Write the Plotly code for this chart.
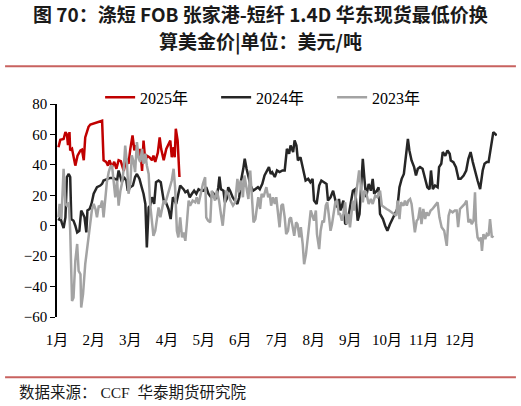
import plotly.graph_objects as go

# 月份标签（x 轴以“月”为单位，0 = 1月1日）
months = ["1月", "2月", "3月", "4月", "5月", "6月", "7月", "8月", "9月", "10月", "11月", "12月"]
y_ticks = [-60, -40, -20, 0, 20, 40, 60, 80]

x2025 = [0.04, 0.09, 0.18, 0.23, 0.27, 0.30, 0.34, 0.36, 0.41, 0.45, 0.50, 0.56, 0.64, 0.68, 0.73,
         0.77, 0.86, 0.91, 1.09, 1.23, 1.27, 1.34, 1.39, 1.43, 1.50, 1.56, 1.62, 1.68, 1.74, 1.82,
         1.89, 1.95, 2.00, 2.06, 2.11, 2.16, 2.23, 2.27, 2.32, 2.36, 2.41, 2.45, 2.52, 2.59, 2.63,
         2.68, 2.75, 2.80, 2.84, 2.91, 2.98, 3.04, 3.09, 3.13, 3.18, 3.21, 3.24, 3.29, 3.32, 3.34]
y2025 = [51.6, 56.5, 57, 61.5, 60, 53, 61.5, 49.5, 50.5, 45, 39.5, 46, 49.5, 50, 43,
         58, 65, 66.5, 68, 69, 43, 42, 39.5, 43, 38.5, 42, 37.4, 43, 42.4, 36,
         44, 40.7, 50.5, 59.3, 49.5, 52.7, 45, 50.5, 36, 56, 41.8, 46, 45, 43, 46,
         42, 48, 58, 50.5, 43, 50.5, 54, 56, 45, 51.6, 45, 63.7, 56, 33, 32]

x2024 = [0.04, 0.09, 0.13, 0.18, 0.23, 0.27, 0.32, 0.36, 0.39, 0.45, 0.50, 0.55, 0.61, 0.66, 0.71,
         0.75, 0.80, 0.83, 0.89, 0.94, 1.00, 1.09, 1.18, 1.23, 1.27, 1.36, 1.45, 1.54, 1.64, 1.68,
         1.73, 1.77, 1.82, 1.89, 1.93, 2.00, 2.07, 2.13, 2.18, 2.25, 2.31, 2.36, 2.41, 2.45, 2.50,
         2.54, 2.59, 2.65, 2.70, 2.77, 2.83, 2.91, 2.97, 3.04, 3.10, 3.16, 3.19, 3.25, 3.31,
         3.36, 3.45, 3.50, 3.56, 3.62, 3.68, 3.74, 3.80, 3.86, 3.93, 4.00, 4.07, 4.13, 4.20, 4.27,
         4.34, 4.40, 4.43, 4.47, 4.54, 4.58, 4.63, 4.67, 4.72, 4.79, 4.85, 4.92, 4.97, 5.02, 5.08,
         5.12, 5.17, 5.21, 5.28, 5.35, 5.42, 5.48, 5.53, 5.60, 5.66, 5.73, 5.78, 5.83, 5.87, 5.94,
         6.00, 6.07, 6.15, 6.21, 6.27, 6.33, 6.37, 6.44, 6.48, 6.53, 6.57, 6.64, 6.71, 6.78, 6.85,
         6.91, 6.97, 7.01, 7.08, 7.15, 7.21, 7.28, 7.35, 7.39, 7.46, 7.53, 7.58, 7.64, 7.69,
         7.73, 7.81, 7.86, 7.92, 7.99, 8.07, 8.13, 8.20, 8.25, 8.29, 8.34, 8.38, 8.43, 8.50, 8.56,
         8.61, 8.65, 8.72, 8.77, 8.81, 8.89, 8.95, 9.01, 9.08, 9.16, 9.22, 9.28, 9.34, 9.40, 9.46,
         9.52, 9.57, 9.61, 9.67, 9.74, 9.79, 9.84, 9.90, 9.97, 10.04, 10.10, 10.16, 10.20, 10.25, 10.31,
         10.38, 10.42, 10.48, 10.52, 10.59, 10.65, 10.71, 10.74, 10.81, 10.88, 10.95, 11.01, 11.09, 11.16, 11.22,
         11.28, 11.34, 11.40, 11.47, 11.54, 11.61, 11.66, 11.72, 11.77, 11.81, 11.86, 11.90, 11.95, 11.99]
y2024 = [3.3, 5.5, 2, -1.5, 5.5, 32, 34, 32, 4.4, 3.3, 0, -4.4, -3.3, 10, 7.7,
         5.5, -4.4, 10, 11, 14.3, 21, 25.3, 26.4, 27.5, 29.7, 30.8, 31.4, 31.4, 30, 36.3,
         30.8, 28.6, 32, 29.7, 23, 25.3, 26.4, 32, 34, 30.8, 25.3, 21, 14.3, -14.3, 12,
         13.2, 18.7, 14.3, 28.6, 29.7, 28.6, 16.5, 15.4, 11, 4.4, 18.7, 17.6, 14.3, 21,
         26.4, 24, 22, 23, 18.7, 21, 23, 21, 24, 23, 23, 25.3, 21, 18.7, 21,
         17.6, 25.3, 32.3, 24, 23, 15.4, 17.6, 25.3, 23, 18.7, 16.5, 14.3, 18.7, 29.7, 37.4,
         44, 37.4, 34, 26.4, 23, 24, 25.3, 24, 27.5, 33, 36.3, 38.5, 34, 35.2, 32,
         36.3, 35.2, 36.3, 36.3, 50.5, 47.3, 52.7, 48.4, 56, 52.7, 42.9, 45, 36.3, 29.7, 30.8,
         28.6, 30.8, 16.5, 14.3, 26.4, 29.7, 28.6, 27.5, 16.5, 18.7, 23, 17.6, 12, 17.6,
         10, 16.5, 1, 2.2, 13.2, 23, 24, 3.3, 7.7, 21, 44, 32, 18.7, 27.5, 23,
         30.8, 21, 23, 25.3, 7.7, 4.4, 0, -3.3, 1, 5.5, 7.7, 11, 25.3, 30.8, 34,
         47.3, 57.1, 49.5, 42.9, 38.5, 33, 37.4, 38.5, 37.4, 29.7, 25.3, 24, 36.3, 24, 26.4,
         25.3, 38.5, 40.7, 48.4, 46, 49.5, 47.3, 42.9, 41.8, 38.5, 30.8, 30.8, 33, 36.3, 44,
         48.4, 41.8, 35.2, 29.7, 24, 36.3, 40.7, 41.8, 41.8, 48.4, 56, 61.5, 60.4, 59.3]

x2023 = [0.04, 0.07, 0.12, 0.15, 0.18, 0.23, 0.27, 0.32, 0.36, 0.41, 0.45, 0.50, 0.55, 0.59, 0.64,
         0.66, 0.71, 0.77, 0.82, 0.86, 0.91, 0.95, 1.00, 1.05, 1.09, 1.14, 1.18, 1.23, 1.27, 1.32,
         1.36, 1.41, 1.45, 1.50, 1.54, 1.59, 1.64, 1.68, 1.73, 1.77, 1.82, 1.86, 1.91, 1.95, 2.00,
         2.04, 2.09, 2.13, 2.18, 2.23, 2.27, 2.32, 2.36, 2.41, 2.45, 2.50, 2.54, 2.59, 2.63, 2.68,
         2.72, 2.77, 2.82, 2.86, 2.91, 2.95, 3.00, 3.04, 3.09, 3.13, 3.18, 3.22, 3.27, 3.31,
         3.36, 3.41, 3.45, 3.50, 3.54, 3.59, 3.63, 3.70, 3.77, 3.81, 3.86, 3.92, 3.98, 4.04, 4.07,
         4.12, 4.18, 4.22, 4.27, 4.31, 4.36, 4.42, 4.47, 4.52, 4.56, 4.61, 4.67, 4.73, 4.80, 4.86,
         4.92, 4.96, 5.02, 5.07, 5.11, 5.17, 5.22, 5.27, 5.30, 5.36, 5.41, 5.45, 5.49, 5.54, 5.58,
         5.63, 5.67, 5.71, 5.76, 5.80, 5.84, 5.89, 5.94, 5.98, 6.03, 6.07, 6.12, 6.16, 6.21, 6.25,
         6.30, 6.34, 6.38, 6.43, 6.47, 6.52, 6.56, 6.61, 6.65, 6.70, 6.74, 6.79, 6.83, 6.88, 6.92,
         6.97, 7.01, 7.06, 7.09, 7.15, 7.19, 7.24, 7.28, 7.33, 7.37, 7.41, 7.46, 7.50, 7.55, 7.59,
         7.64, 7.68,
         7.72, 7.77, 7.81, 7.86, 7.90, 7.95, 7.99, 8.07, 8.10, 8.16, 8.21, 8.24, 8.29, 8.34, 8.38,
         8.43, 8.50, 8.56, 8.61, 8.68, 8.74, 8.81, 8.86, 8.92, 8.99, 9.06, 9.13, 9.19, 9.25, 9.29,
         9.34, 9.38, 9.45, 9.49, 9.54, 9.58, 9.63, 9.67, 9.72, 9.76, 9.81, 9.85, 9.90, 9.94, 9.99,
         10.04, 10.08, 10.13, 10.19, 10.24, 10.31, 10.38, 10.43, 10.49, 10.56, 10.63, 10.68, 10.72, 10.79, 10.85,
         10.90, 10.94, 10.99, 11.03, 11.08, 11.12, 11.17, 11.22, 11.27, 11.31, 11.36, 11.40, 11.43, 11.47, 11.52,
         11.56, 11.59, 11.63, 11.68, 11.72, 11.77, 11.81, 11.86, 11.90]
y2023 = [5.5, 14.3, 4.4, 23, 37.4, 14.3, 13.2, 15.4, -3.3, -49.5, -47.3, -23, -12, -29.7, -31.9,
         -53.8, -45, -25.3, -14.3, -7.7, 1, 10, 14.3, 11, 5.5, 13.2, 12, 16.5, 5.5, 18.7,
         28.6, 35.2, 38.5, 39.6, 31.9, 18.7, 29.7, 13.2, 23, 27.5, 37.4, 52.7, 40.7, 21, 27.5,
         46.2, 41.8, 35.2, 55, 44, 41.8, 50.5, 40.7, 47.3, 39.6, 34, 14.3, 1, -6.6, -3.3,
         2.2, 12, 5.5, 10, 16.5, 14.3, 18.7, 21, 25.3, 29.7, 37.4, 25.3, -3.3, -7.7,
         5.5, -7.7, -4.4, -9.9, 1, 16.5, 13.2, 16.5, 15.4, 18.7, 14.3, 21, 27.5, 31.9, 5.5,
         3.3, 2.2, 23, 18.7, 16.5, 23, 16.5, 7.7, 0, 10, 23, 21, 16.5, 13.2, 15.4,
         30.8, 22, 29.7, 18.7, 33, 25.3, 17.6, 36.3, 23, 2.2, 4.4, 12, 18.7, 11, 21,
         18.7, 23, 25.3, 18.7, 21, 13.2, 18.7, 14.3, 18.7, 7.7, -1, 13.2, 14.3, 5.5, -5.5,
         -3.3, 4.4, 5.5, -1, -6.6, 2.2, 1, -7.7, -1, -12, -25.3, -18.7, -7.7, 1, 10,
         6.6, 3.3, 10, -5.5, -15.4, -3.3, 3.3, 2.2, 13.2, 15.4, 7.7, -3.3, 1, 7.7, 15.4,
         16.5, 7.7,
         7.7, 3.3, 7.7, 15.4, 1, 7.7, -1, 16.5, 10, 23, 33, 36.3, 25.3, 15.4, 23,
         22, 14.3, 17.6, 14.3, 19.8, 18.7, 23, 13.2, 12, 11, 10, 8.8, 7.7, 6.6, 16.5,
         4.4, 15.4, 13.2, 16.5, 13.2, 16.5, 17.6, 14.3, 4.4, -4.4, 3.3, 4.4, 12, 1, 11,
         4.4, 8.8, 6.6, 10, 11, 13.2, 15.4, 5.5, -1, -3.3, -13.2, 6.6, 10, 8.8, 10,
         10, -1, 11, 12, 13.2, 14.3, 16.5, 2.2, 4.4, 1, 3.3, 22, 1, -7.7, -9.9,
         -7.7, -16.5, -5.5, -8.8, -5.5, -6.6, 4.4, -7.7, -6.6]

serif = "Liberation Serif, Times New Roman, Noto Sans CJK SC, serif"
cjk = "Noto Sans CJK SC, sans-serif"

fig = go.Figure()
fig.add_trace(go.Scatter(x=x2025, y=y2025, name="2025年", mode="lines",
                         line=dict(color="#C00000", width=2.5)))
fig.add_trace(go.Scatter(x=x2024, y=y2024, name="2024年", mode="lines",
                         line=dict(color="#262626", width=2.5)))
fig.add_trace(go.Scatter(x=x2023, y=y2023, name="2023年", mode="lines",
                         line=dict(color="#A3A3A3", width=2.5)))

fig.update_layout(
    width=521, height=406,
    margin=dict(l=57, r=24, t=104, b=89, autoexpand=False),
    paper_bgcolor="white", plot_bgcolor="white",
    font=dict(family=serif, size=15, color="#000000"),
    showlegend=True,
    legend=dict(orientation="h", x=0.098, xanchor="left", y=1.031, yanchor="middle",
                font=dict(family=serif, size=16), entrywidth=71, entrywidthmode="pixels",
                bgcolor="rgba(0,0,0,0)"),
    xaxis=dict(range=[0, 12], tickvals=list(range(12)), ticktext=months,
               showline=False, ticks="", showgrid=False, zeroline=False, automargin=False,
               ticklabelstandoff=12, tickfont=dict(family=serif, size=15)),
    xaxis2=dict(overlaying="x", matches="x", anchor="free", position=60 / 140,
                range=[0, 12], tickvals=list(range(13)), showticklabels=False,
                showline=True, linecolor="#000000", linewidth=1.5, automargin=False,
                ticks="outside", ticklen=4, tickcolor="#000000", tickwidth=1.5,
                showgrid=False, zeroline=False),
    yaxis=dict(range=[-60, 80], tickvals=y_ticks, showline=True, linecolor="#000000",
               linewidth=1.5, ticks="outside", ticklen=5, tickcolor="#000000", automargin=False,
               showgrid=False, zeroline=False, tickfont=dict(family=serif, size=15)),
)

# 标题（两行）、分隔线、数据来源
title_lines = ["<b>图 70：涤短 FOB 张家港-短纤 1.4D 华东现货最低价换</b>", "<b>算美金价|单位：美元/吨</b>"]
for txt, yy in zip(title_lines, [1.427, 1.298]):
    fig.add_annotation(text=txt, xref="paper", yref="paper", x=0.4636, y=yy,
                       xanchor="center", yanchor="middle", showarrow=False,
                       font=dict(family=cjk, size=19, color="#1a1a1a"))
fig.add_annotation(text="数据来源： CCF  华泰期货研究院",
                   xref="paper", yref="paper", x=-0.0909, y=-0.353, xanchor="left", yanchor="middle",
                   showarrow=False, font=dict(family=serif, size=15.5, color="#1a1a1a"))
for yy in [1.177, -0.283]:
    fig.add_shape(type="line", xref="paper", yref="paper", x0=-0.118, x1=1.043, y0=yy, y1=yy,
                  line=dict(color="#C8625F", width=2))

# 去掉页面默认的 8px 边距，并隐藏工具栏
fig.write_html("out.html", config={"displayModeBar": False},
               post_script="document.body.style.margin='0';")
